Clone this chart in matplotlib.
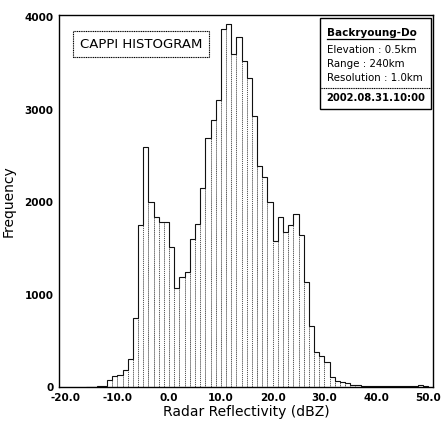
import numpy as np
import matplotlib
matplotlib.use("Agg")
import matplotlib.pyplot as plt

# reflectivity bins (1 dBZ wide) and pixel counts per bin
bin_start = -16
counts = [3, 5, 8, 15, 75, 115, 125, 185, 300, 745,
          1750, 2600, 2000, 1835, 1780, 1790, 1520, 1075, 1185, 1240,
          1600, 1760, 2150, 2690, 2890, 3110, 3870, 3930, 3600, 3790,
          3530, 3340, 2935, 2390, 2270, 2000, 1575, 1835, 1675, 1750,
          1870, 1640, 1140, 660, 380, 335, 270, 110, 65, 50,
          45, 25, 20, 15, 12, 10, 10, 12, 15, 10,
          8, 10, 12, 15, 18, 15]
edges = np.arange(bin_start, bin_start + len(counts) + 1)

xticks = [-20, -10, 0, 10, 20, 30, 40, 50]
yticks = [0, 1000, 2000, 3000, 4000]

station = "Backryoung-Do"
info_lines = ["Elevation : 0.5km", "Range : 240km", "Resolution : 1.0km"]
timestamp = "2002.08.31.10:00"

plt.rcParams['font.family'] = ['DejaVu Sans']

fig = plt.figure(figsize=(4.41, 4.25), dpi=100)
ax = fig.add_axes([59 / 441, 38 / 425, 374 / 441, 372 / 425])

# bars with dotted edges, then a step outline on top
ax.bar(edges[:-1], counts, width=1.0, align='edge', color='white',
       edgecolor='#555555', linewidth=0.7, linestyle=(0, (1, 1)))
ax.stairs(counts, edges, color='#111111', linewidth=0.8)

ax.set_xlim(-21.27, 50.97)
ax.set_ylim(0, 4025)
ax.set_xticks(xticks)
ax.set_xticklabels([f"{v:.1f}" for v in xticks])
ax.set_yticks(yticks)
ax.tick_params(length=0, labelsize=7.5, pad=4)
for lab in ax.get_xticklabels() + ax.get_yticklabels():
    lab.set_fontweight('bold')
for s in ax.spines.values():
    s.set_linewidth(1.0)

ax.set_xlabel("Radar Reflectivity (dBZ)", fontsize=10, labelpad=2)
ax.set_ylabel("Frequency", fontsize=10, labelpad=6)

# title box
ax.text(0.055, 0.922, "CAPPI HISTOGRAM", transform=ax.transAxes,
        fontsize=9.5, ha='left', va='center',
        bbox=dict(boxstyle='square,pad=0.5', facecolor='white',
                  edgecolor='black', linewidth=0.8, linestyle=(0, (1, 0.6))))

# station info box
bx0, bx1 = (320 - 59) / 374, (431 - 59) / 374
by0, by1 = (387 - 109) / 372, (387 - 18) / 372
ax.add_patch(plt.Rectangle((bx0, by0), bx1 - bx0, by1 - by0, transform=ax.transAxes,
                           facecolor='white', edgecolor='black', linewidth=1.0, zorder=5))
ydiv = (387 - 88) / 372
ax.plot([bx0, bx1], [ydiv, ydiv], transform=ax.transAxes, color='black',
        linewidth=0.8, linestyle=(0, (1, 0.6)), zorder=6)
tx = bx0 + 0.02
ax.text(tx, (387 - 33) / 372, station, transform=ax.transAxes, fontsize=7.5,
        fontweight='bold', va='center', ha='left', zorder=7)
ax.plot([tx, tx + 0.232], [(387 - 39) / 372] * 2, transform=ax.transAxes,
        color='black', linewidth=0.9, zorder=7)
for i, line in enumerate(info_lines):
    ax.text(tx, (387 - (50 + 14 * i)) / 372, line, transform=ax.transAxes,
            fontsize=7.4, va='center', ha='left', zorder=7)
ax.text((bx0 + bx1) / 2, (387 - 98) / 372, timestamp, transform=ax.transAxes,
        fontsize=7.2, fontweight='bold', va='center', ha='center', zorder=7)

fig.savefig("out.png", dpi=100)
